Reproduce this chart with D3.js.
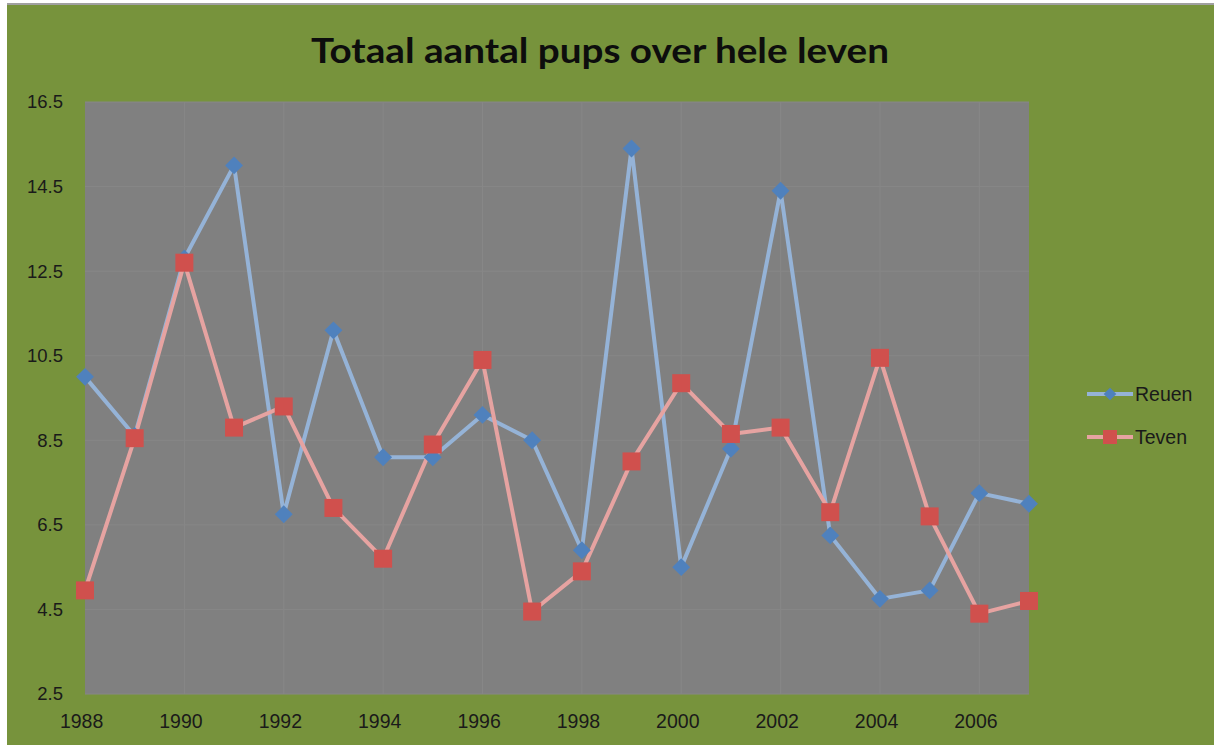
<!DOCTYPE html>
<html>
<head>
<meta charset="utf-8">
<script src="https://cdn.jsdelivr.net/npm/d3@7"></script>
<style>
  html, body { margin: 0; padding: 0; background: #ffffff; }
  svg { display: block; }
</style>
</head>
<body>
<svg id="chart" width="1214" height="745"></svg>
<script>
const years = [1988,1989,1990,1991,1992,1993,1994,1995,1996,1997,1998,1999,2000,2001,2002,2003,2004,2005,2006,2007];
const reuen = [10.0,8.6,12.8,15.0,6.75,11.1,8.1,8.1,9.1,8.5,5.9,15.4,5.5,8.3,14.4,6.25,4.75,4.95,7.25,7.0];
const teven = [4.95,8.55,12.7,8.8,9.3,6.9,5.7,8.4,10.4,4.45,5.4,8.0,9.85,8.65,8.8,6.8,10.45,6.7,4.4,4.7];
const yTicks = [2.5,4.5,6.5,8.5,10.5,12.5,14.5,16.5];
const xTicks = [1988,1990,1992,1994,1996,1998,2000,2002,2004,2006];
const seriesNames = ["Reuen","Teven"];
const title = "Totaal aantal pups over hele leven";

const svg = d3.select("#chart");
const W = 1214, H = 745;

svg.append("rect").attr("x", 0).attr("y", 0).attr("width", W).attr("height", H).attr("fill", "#ffffff");
svg.append("rect").attr("x", 7).attr("y", 3).attr("width", W - 7).attr("height", 2).attr("fill", "#a0a0a0");
svg.append("rect").attr("x", 7).attr("y", 5).attr("width", W - 7).attr("height", H - 5).attr("fill", "#77933c");

const plot = { left: 85, right: 1029, top: 102, bottom: 694 };
const x = d3.scaleLinear().domain([1988, 2007]).range([plot.left, plot.right]);
const y = d3.scaleLinear().domain([2.5, 16.5]).range([plot.bottom, plot.top]);

svg.append("rect")
  .attr("x", plot.left).attr("y", plot.top)
  .attr("width", plot.right - plot.left).attr("height", plot.bottom - plot.top)
  .attr("fill", "#808080");

// gridlines
svg.append("g").selectAll("line").data(yTicks).join("line")
  .attr("x1", plot.left).attr("x2", plot.right)
  .attr("y1", d => y(d)).attr("y2", d => y(d))
  .attr("stroke", "#878787").attr("stroke-width", 1);
svg.append("g").selectAll("line").data(xTicks.slice(1)).join("line")
  .attr("y1", plot.top).attr("y2", plot.bottom)
  .attr("x1", d => x(d)).attr("x2", d => x(d))
  .attr("stroke", "#878787").attr("stroke-width", 1);

// axes
const yAxis = svg.append("g").attr("transform", `translate(${plot.left - 22},0)`)
  .call(d3.axisLeft(y).tickValues(yTicks).tickFormat(d3.format(".1f")).tickSize(0).tickPadding(0));
yAxis.select(".domain").remove();
yAxis.selectAll("text").attr("font-family", "Liberation Sans, Arial, sans-serif").attr("font-size", 18.5).attr("fill", "#1a1a1a").attr("dy", "0.32em");

const xAxis = svg.append("g").attr("transform", `translate(0,${plot.bottom + 20})`)
  .call(d3.axisBottom(x).tickValues(xTicks).tickFormat(d3.format("d")).tickSize(0).tickPadding(0));
xAxis.select(".domain").remove();
xAxis.selectAll("text").attr("font-family", "Liberation Sans Narrow, Arial Narrow, sans-serif").attr("font-size", 19.5).attr("fill", "#1a1a1a").attr("dx", "-0.2em");

// title
svg.append("text").attr("x", 600).attr("y", 63).attr("text-anchor", "middle")
  .attr("font-family", "Lato, Open Sans, sans-serif").attr("font-weight", "bold")
  .attr("font-size", 35).attr("fill", "#0d0d0d")
  .attr("textLength", 578).attr("lengthAdjust", "spacingAndGlyphs")
  .text(title);

const line = d3.line().x((d, i) => x(years[i])).y(d => y(d));

svg.append("path").datum(reuen).attr("d", line).attr("fill", "none")
  .attr("stroke", "#95b3d7").attr("stroke-width", 4).attr("stroke-linejoin", "round");
svg.append("path").datum(teven).attr("d", line).attr("fill", "none")
  .attr("stroke", "#e6a3a1").attr("stroke-width", 4).attr("stroke-linejoin", "round");

svg.append("g").selectAll("path").data(reuen).join("path")
  .attr("d", d3.symbol().type(d3.symbolSquare).size(160))
  .attr("transform", (d, i) => `translate(${x(years[i])},${y(d)}) rotate(45)`)
  .attr("fill", "#4f81bd");

svg.append("g").selectAll("rect").data(teven).join("rect")
  .attr("x", (d, i) => x(years[i]) - 9).attr("y", d => y(d) - 9)
  .attr("width", 18).attr("height", 18)
  .attr("fill", "#d0504d");

// legend
const legend = svg.append("g");
const legendY = [394, 437];
const colorsLine = ["#95b3d7", "#e6a3a1"];
seriesNames.forEach((name, i) => {
  const g = legend.append("g").attr("transform", `translate(0,${legendY[i]})`);
  g.append("line").attr("x1", 1087).attr("x2", 1133).attr("y1", 0).attr("y2", 0)
    .attr("stroke", colorsLine[i]).attr("stroke-width", 4);
  if (i === 0) {
    g.append("path").attr("d", d3.symbol().type(d3.symbolSquare).size(80))
      .attr("transform", "translate(1110,0) rotate(45)").attr("fill", "#4f81bd");
  } else {
    g.append("rect").attr("x", 1103).attr("y", -7).attr("width", 14).attr("height", 14).attr("fill", "#d0504d");
  }
  g.append("text").attr("x", 1135).attr("y", 0).attr("dy", "0.35em")
    .attr("font-family", "Liberation Sans Narrow, Arial Narrow, sans-serif").attr("font-size", 19.5)
    .attr("fill", "#1a1a1a").text(name);
});
</script>
</body>
</html>
